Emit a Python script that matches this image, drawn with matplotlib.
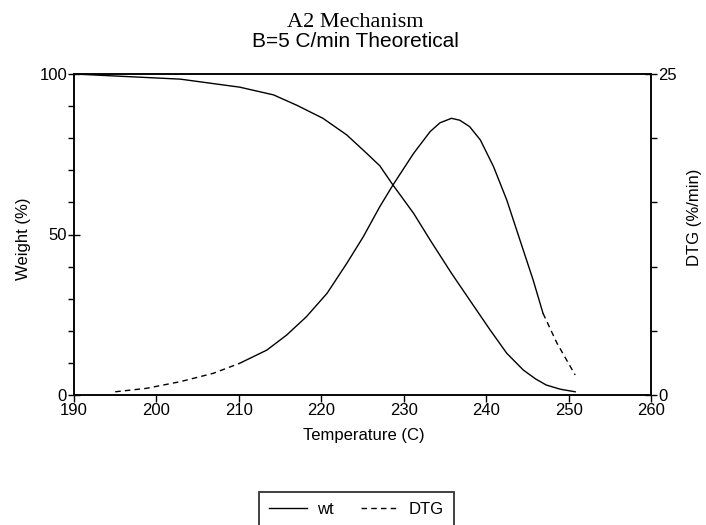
import matplotlib
matplotlib.use("Agg")
import matplotlib.pyplot as plt
import numpy as np

# values
wt_temp = [190, 194.8, 202.9, 210.1, 214.2, 217.0, 220.2, 223.1, 225.5, 227.1,
           228.7, 231.2, 233.2, 235.8, 238.0, 240.5, 242.5, 244.5, 246.0, 247.3,
           249.0, 250.8]
wt = [100, 99.4, 98.4, 95.9, 93.5, 90.3, 86.2, 81.0, 75.3, 71.4,
      65.4, 56.6, 48.3, 37.9, 29.6, 20.2, 13.0, 7.8, 5.0, 3.1,
      1.8, 1.0]

dtg_temp = [195.0, 198.8, 202.9, 206.9, 210.1, 213.4, 215.8, 218.2, 220.7, 223.1,
            225.1, 227.1, 228.7, 231.2, 233.2, 234.4, 235.8, 236.8, 238.0, 239.3,
            240.9, 242.5, 244.1, 245.7, 246.9, 248.6, 250.8]
dtg = [0.25, 0.52, 1.04, 1.69, 2.47, 3.50, 4.67, 6.10, 7.92, 10.26,
       12.33, 14.67, 16.36, 18.82, 20.51, 21.2, 21.55, 21.4, 20.9, 19.86,
       17.78, 15.19, 12.07, 8.96, 6.36, 4.03, 1.56]

x_ticks = [190, 200, 210, 220, 230, 240, 250, 260]

plt.rcParams['font.family'] = ['Liberation Sans', 'DejaVu Sans']

fig = plt.figure(figsize=(7.06, 5.25), dpi=100)
ax = fig.add_axes([74/706, 1-395/525, 577/706, 321/525])
ax2 = ax.twinx()

t_d = np.array(dtg_temp)
d = np.array(dtg)
# the original plot looks solid where the curve is steep, dashed on the tails
lo = t_d <= 210.2
mid = (t_d >= 210.0) & (t_d <= 247.0)
hi = t_d >= 246.8

ax.plot(wt_temp, wt, color='black', lw=1.0, label='wt')
ax2.plot(t_d[lo], d[lo], color='black', lw=1.0, dashes=(4, 3), label='DTG')
ax2.plot(t_d[mid], d[mid], color='black', lw=1.0)
ax2.plot(t_d[hi], d[hi], color='black', lw=1.0, dashes=(4, 3))

ax.set_xlim(190, 260)
ax.set_ylim(0, 100)
ax2.set_ylim(0, 25)

ax.set_xticks(x_ticks)
ax.set_yticks([0, 50, 100])
ax.set_yticks(np.arange(0, 101, 10), minor=True)
ax2.set_yticks([0, 25])
ax2.set_yticks(np.arange(0, 26, 5), minor=True)

for a in (ax, ax2):
    for s in a.spines.values():
        s.set_linewidth(1.1)
ax.tick_params(axis='x', which='major', direction='out', length=5, width=1,
               labelsize=12, pad=1)
ax.tick_params(axis='y', which='major', direction='inout', length=8, width=1,
               labelsize=12, pad=1)
ax.tick_params(axis='y', which='minor', direction='out', length=4, width=1)
ax2.tick_params(axis='y', which='major', direction='inout', length=8, width=1,
                labelsize=12, pad=1)
ax2.tick_params(axis='y', which='minor', direction='out', length=4, width=1)

fig.text(0.503, 0.958, 'A2 Mechanism', ha='center', va='center',
         fontsize=16, family=['Liberation Serif', 'DejaVu Serif'])
fig.text(0.503, 0.921, 'B=5 C/min Theoretical', ha='center', va='center',
         fontsize=15)
fig.text(0.5156, 0.171, 'Temperature (C)', ha='center', va='center', fontsize=12)
fig.text(0.0326, 0.545, 'Weight (%)', ha='center', va='center', fontsize=12,
         rotation=90)
fig.text(0.984, 0.587, 'DTG (%/min)', ha='center', va='center', fontsize=12,
         rotation=90)

h1, l1 = ax.get_legend_handles_labels()
h2, l2 = ax2.get_legend_handles_labels()
leg = fig.legend(h1 + h2, l1 + l2, loc='upper center', ncol=2,
                 bbox_to_anchor=(0.505, 1-492/525), fontsize=12, frameon=True,
                 fancybox=False, edgecolor='black', handlelength=2.3,
                 handletextpad=0.6, columnspacing=1.6, borderpad=0.6,
                 borderaxespad=0)
leg.get_frame().set_linewidth(1.3)

fig.savefig('out.png', dpi=100)
